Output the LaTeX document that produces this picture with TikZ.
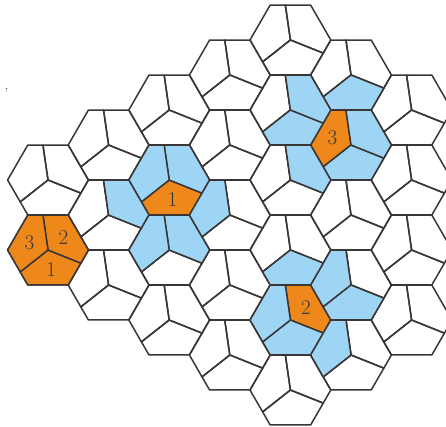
\documentclass[tikz,border=0pt]{standalone}
\definecolor{TileLine}{RGB}{58,54,54}
\definecolor{SpotOrange}{RGB}{239,136,27}
\definecolor{SpotBlue}{RGB}{158,213,245}
\usepackage{tikz}
\usetikzlibrary{calc}

\begin{document}
\begin{tikzpicture}[x=1pt, y=1pt,
	tile/.style={draw=TileLine, line width=1.5pt, line join=round},
	num/.style={font=\fontsize{21}{22}\selectfont, text=TileLine, inner sep=0pt}]
	\useasboundingbox (0,0) rectangle (446,-426);
	\clip (0,0) rectangle (446,-426);
	% tiling: hexagon a/b, each cut into three pentagons
	\foreach \a/\blo/\bhi in {0/-1/0, 1/-1/1, 2/-1/2, 3/-1/3, 4/-1/4, 5/0/4, 6/1/4}
		\foreach \b in {\blo,...,\bhi} {
			\begin{scope}[shift={({48+60.6*\a}, {-250+35*\a-70*(\b)})}]
				\foreach \k in {0,1,2}
					\draw[tile, rotate=120*\k] (0,0) -- (218.21:35.36) -- (240:40.4) -- (300:40.4) -- (338.21:35.36) -- cycle;
			\end{scope}
		}
	% coloured pentagons
	\foreach \a/\b/\k/\col in {0/0/0/SpotOrange, 0/0/1/SpotOrange, 0/0/2/SpotOrange,
		2/0/0/SpotOrange, 2/0/1/SpotBlue, 2/0/2/SpotBlue, 1/0/1/SpotBlue, 2/1/1/SpotBlue, 2/1/2/SpotBlue, 3/1/2/SpotBlue,
		5/1/2/SpotOrange, 5/1/0/SpotBlue, 5/1/1/SpotBlue, 5/0/0/SpotBlue, 4/0/0/SpotBlue, 4/0/1/SpotBlue, 4/1/1/SpotBlue,
		4/3/1/SpotOrange, 4/3/0/SpotBlue, 4/3/2/SpotBlue, 5/4/2/SpotBlue, 5/3/2/SpotBlue, 5/3/0/SpotBlue, 4/2/0/SpotBlue} {
		\begin{scope}[shift={({48+60.6*\a}, {-250+35*\a-70*(\b)})}]
			\filldraw[tile, fill=\col, rotate=120*\k] (0,0) -- (218.21:35.36) -- (240:40.4) -- (300:40.4) -- (338.21:35.36) -- cycle;
		\end{scope}
	}
	% numbers
	\foreach \a/\b/\k/\t in {0/0/0/1, 0/0/1/2, 0/0/2/3, 2/0/0/1, 5/1/2/3, 4/3/1/2} {
		\begin{scope}[shift={({48+60.6*\a}, {-250+35*\a-70*(\b)})}]
			\node[num] (n\a\b\k) at ({120*\k-81}:20) {\t};
		\end{scope}
	}
	\node[font=\fontsize{15}{15}\selectfont, text=TileLine, inner sep=0pt] (mark) at (6.5,-90) {,};
\end{tikzpicture}
\end{document}
